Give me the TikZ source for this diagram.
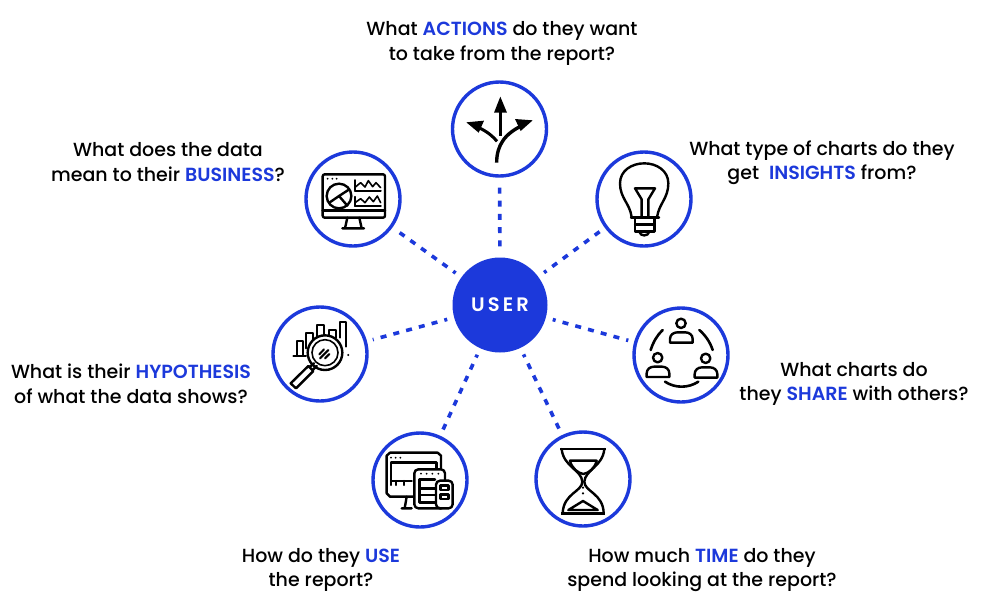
\documentclass[tikz,border=0pt]{standalone}
\usepackage{fontspec}
\setmainfont{Poppins Medium}[BoldFont={Poppins SemiBold}]
\definecolor{ublue}{HTML}{1C39DB}
\newcommand{\kw}[1]{{\bfseries\color{ublue}#1}}
\tikzset{
  ring/.style={circle,draw=ublue,line width=3.4pt,fill=white,minimum size=94pt,inner sep=0pt},
  hub/.style={circle,fill=ublue,minimum size=95pt,inner sep=0pt,text=white,font=\fontsize{19.5}{22}\selectfont\bfseries\addfontfeature{LetterSpace=16}},
  conn/.style={draw=ublue,line width=3.6pt,dash pattern=on 6pt off 7.2pt,dash phase=3pt,shorten <=7pt,shorten >=6pt},
  lab/.style={align=center,inner sep=0pt,text=black,font=\fontsize{19}{24.5}\selectfont},
  zoomed/.style 2 args={shift={(#1,#2)},x=0.33333pt,y=-0.33333pt},
  ic/.style={draw=black,line width=2.4pt,line join=round,line cap=round},
  ict/.style={draw=black,line width=1.6pt,line join=round,line cap=round}
}
\begin{document}
\begin{tikzpicture}[x=1pt,y=-1pt]
\useasboundingbox (0,0) rectangle (1000,614);
\fill[white] (0,0) rectangle (1000,614);
\node[hub] (user) at (500,305) {\raisebox{-1.5pt}{USER}};
\node[ring] (actions) at (499.5,129) {};
\node[ring] (business) at (353,199) {};
\node[ring] (insights) at (644,199) {};
\node[ring] (hypothesis) at (320,354) {};
\node[ring] (share) at (681,355) {};
\node[ring] (use) at (420,480) {};
\node[ring] (time) at (583,479) {};
\draw[conn,dash phase=0pt,shorten <=11pt] (user) -- (actions);
\foreach \n in {business,insights,hypothesis,share,use,time}{\draw[conn] (user) -- (\n);}
% labels
\node[lab] (tactions) at (502,43.5) {What \kw{ACTIONS} do they want\\to take from the report?};
\node[lab] (tbusiness) at (168,162) {What does the data\\mean to their \kw{BUSINESS}?};
\node[lab] (tinsights) at (822,162.5) {What type of charts do they\\get\ \ \kw{INSIGHTS} from?};
\node[lab] (thyp) at (131,384) {What is their \kw{HYPOTHESIS}\\of what the data shows?};
\node[lab] (tshare) at (854,384) {What charts do\\they \kw{SHARE} with others?};
\node[lab] (tuse) at (321,570) {How do they \kw{USE}\\the report?};
\node[lab] (ttime) at (702,570) {How much \kw{TIME} do they\\spend looking at the report?};
% icon: arrows
\begin{scope}[zoomed={430}{70}]
\draw[ic,line width=3.4pt,line cap=butt] (200,278) .. controls (200,225) and (225,190) .. (280,165);
\draw[ic,line width=3pt,line cap=butt] (201,214) .. controls (185,195) and (165,180) .. (135,168);
\draw[ic,line width=2.8pt,line cap=butt] (211,122) -- (211,198);
\fill (211,80) -- (192,128) -- (231,128) -- cycle;
\fill (308,151) -- (255,147) -- (272,183) -- cycle;
\fill (109,157) -- (162,152) -- (146,188) -- cycle;
\end{scope}
% icon: monitor dashboard
\begin{scope}[zoomed={290}{140}]
\draw[ic,rounded corners=2pt] (98,103) rectangle (285,233);
\draw[ic] (98,212) -- (285,212);
\fill (113,116) circle (3) (127,116) circle (3) (140,116) circle (3);
\draw[ic] (147,168) circle (37);
\draw[ic] (178,148) -- (147,168) -- (118,188) (147,168) -- (172,197);
\draw[ic] (172,233) -- (165,265) (208,233) -- (215,265) (157,265) -- (222,265);
\draw[ict] (195,120) -- (195,152) -- (272,152);
\draw[ict,line width=2.2pt] (195,152) -- (272,152);
\draw[ict] (195,142) -- (212,128) -- (225,141) -- (235,122) -- (248,140) -- (258,128) -- (272,143);
\draw[ict] (195,170) -- (195,198) -- (272,198);
\draw[ict,line width=2.2pt] (195,198) -- (272,198);
\draw[ict] (195,188) -- (212,176) -- (225,188) -- (238,171) -- (250,185) -- (262,168) -- (272,188);
\end{scope}
% icon: bulb
\begin{scope}[zoomed={585}{140}]
\draw[ic] (140,232) .. controls (135,190) and (105,175) .. (105,130) .. controls (105,92) and (140,70) .. (178,70) .. controls (215,70) and (250,92) .. (250,130) .. controls (250,175) and (222,190) .. (216,232);
\draw[ic] (170,232) -- (170,178) -- (150,145) -- (210,145) -- (190,178) -- (190,232);
\draw[ic] (138,232) -- (222,232);
\draw[ic] (150,232) -- (150,275) -- (208,275) -- (208,232) (150,254) -- (208,254);
\draw[ic] (163,275) .. controls (165,290) and (190,290) .. (193,275);
\end{scope}
% icon: magnifier
\begin{scope}[zoomed={260}{295}]
\draw[ict,line width=2pt] (100,182) -- (138,182);
\draw[ict,line width=2pt] (110,182) -- (110,138) -- (128,138) -- (128,180);
\draw[ict,line width=2pt] (138,160) -- (138,115) -- (160,115) -- (160,135);
\draw[ict,line width=2pt] (172,128) -- (172,90) -- (192,90) -- (192,122);
\draw[ict,line width=2pt] (206,125) -- (206,105) -- (228,105) -- (228,128);
\draw[ict,line width=2pt] (240,128) -- (240,82) -- (258,82) -- (258,155);
\fill (265,180) circle (3.4);
\draw[ic,fill=white] (195,173) circle (52);
\draw[ict] (195,173) circle (39);
\draw[ict,line width=2pt] (178,178) -- (192,163) (180,190) -- (205,165) (195,190) -- (208,177);
\draw[ic,fill=white] (92,265) -- (145,213) -- (160,228) -- (108,280) -- cycle;
\draw[ic] (150,215) -- (162,205) (158,225) -- (170,213);
\end{scope}
% icon: people
\begin{scope}[zoomed={620}{295}]
\foreach \dx/\dy in {0/0,-70/103,74/105}{
  \begin{scope}[shift={(\dx,\dy)}]
  \draw[ic] (183,85) circle (14);
  \draw[ic] (150,143) -- (150,132) .. controls (150,120) and (160,112) .. (172,112) -- (196,112) .. controls (208,112) and (218,120) .. (218,132) -- (218,143) -- cycle;
  \end{scope}
}
\draw[ic,line width=2.6pt] (92,165) .. controls (100,140) and (112,120) .. (128,105);
\draw[ic,line width=2.6pt] (238,105) .. controls (255,120) and (270,140) .. (278,165);
\draw[ic,line width=2.6pt] (135,260) .. controls (165,280) and (205,280) .. (235,260);
\end{scope}
% icon: devices
\begin{scope}[zoomed={360}{425}]
\draw[ic] (160,215) -- (90,215) -- (80,205) -- (80,92) -- (90,83) -- (233,83) -- (243,92) -- (243,130);
\fill (93,98) circle (3) (107,98) circle (3) (121,98) circle (3);
\draw[ic] (93,180) -- (93,112) -- (230,112) -- (230,130);
\draw[ic] (93,168) -- (155,168) (108,168) -- (108,180) (132,168) -- (132,180);
\draw[ic] (140,215) -- (134,250) (125,250) -- (155,250);
\draw[ic,rounded corners=4pt] (163,133) rectangle (255,250);
\fill (183,146) circle (3) (200,146) circle (3) (217,146) circle (3) (235,146) circle (3);
\draw[ic] (225,163) -- (178,163) -- (178,232) -- (225,232) (178,190) -- (225,190) (178,210) -- (225,210);
\draw[ic,rounded corners=4pt,fill=white] (228,167) rectangle (278,250);
\draw[ic] (242,181) rectangle (265,195) (242,208) rectangle (265,222);
\end{scope}
% icon: hourglass
\begin{scope}[zoomed={525}{425}]
\draw[ic,line width=2.8pt,line cap=butt] (105,72) -- (243,72) (108,265) -- (240,265);
\draw[ic] (110,72) .. controls (115,125) and (170,135) .. (172,170) .. controls (172,200) and (115,205) .. (113,265);
\draw[ic] (238,72) .. controls (233,125) and (180,135) .. (178,170) .. controls (178,200) and (235,205) .. (236,265);
\draw[ic] (135,107) -- (215,107) .. controls (210,130) and (190,145) .. (175,147) .. controls (160,145) and (140,130) .. (135,107) -- cycle;
\fill (174,188) circle (3.6) (174,205) circle (3.6);
\draw[ic] (130,255) -- (174,228) -- (218,255) -- cycle;
\end{scope}
\end{tikzpicture}
\end{document}
